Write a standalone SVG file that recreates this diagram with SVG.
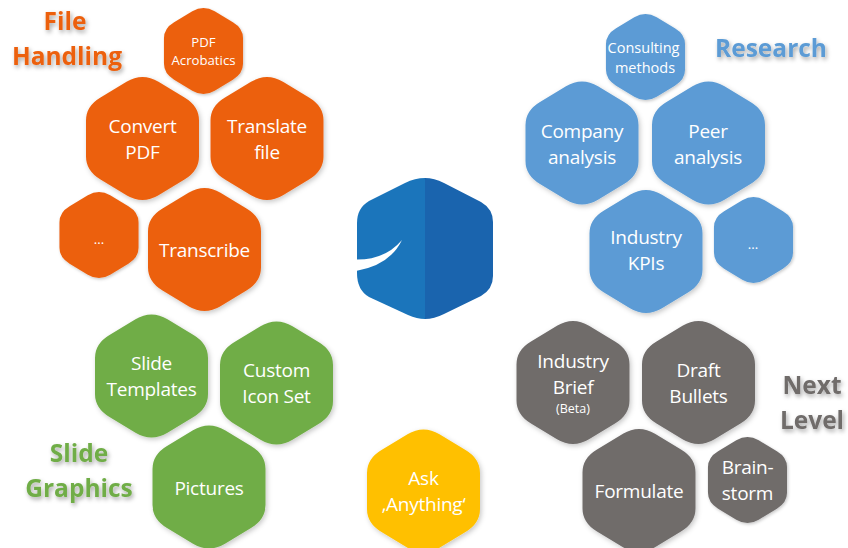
<svg xmlns="http://www.w3.org/2000/svg" width="848" height="548" viewBox="0 0 848 548">
<style>
text{font-family:"Open Sans","Noto Sans","Liberation Sans",sans-serif;text-anchor:middle;fill:#fff}
.l{font-size:19px;letter-spacing:-.25px}
.s{font-size:13.2px}
.c{font-size:14.5px}
.t{font-size:24.5px;font-weight:700;filter:url(#ts)}
.o{fill:#ec610f}.b{fill:#5b9bd5}.g{fill:#70ad47}.y{fill:#ffc000}.k{fill:#706c6b}
</style>
<defs>
<filter id="ns" x="-20%" y="-20%" width="140%" height="140%"><feDropShadow dx="1.5" dy="2" stdDeviation="2.5" flood-color="#000" flood-opacity=".22"/></filter>
<filter id="ts" x="-20%" y="-30%" width="140%" height="170%"><feDropShadow dx="1.5" dy="2.5" stdDeviation="2" flood-color="#000" flood-opacity=".35"/></filter>
<path id="h" d="M-16,-56.7Q0,-66.3 16,-56.7L42,-41Q56.5,-32.4 56.5,-18L56.5,18Q56.5,32.4 42,41L16,56.7Q0,66.3 -16,56.7L-42,41Q-56.5,32.4 -56.5,18L-56.5,-18Q-56.5,-32.4 -42,-41Z"/>
</defs>
<g id="connectors"/>
<g id="title-file"><text class="t" x="65" y="30" style="fill:#ec610f">File</text><text class="t" x="67" y="65" style="fill:#ec610f">Handling</text></g>
<g id="title-research"><text class="t" x="771" y="57" style="fill:#5b9bd5">Research</text></g>
<g id="title-slide"><text class="t" x="79" y="462" style="fill:#70ad47">Slide</text><text class="t" x="79" y="497" style="fill:#70ad47">Graphics</text></g>
<g id="title-next"><text class="t" x="812" y="394" style="fill:#706c6b">Next</text><text class="t" x="812" y="429" style="fill:#706c6b">Level</text></g>

<g id="pdf-acrobatics"><use href="#h" class="o" filter="url(#ns)" transform="translate(203.5 51) scale(.7)"/><text class="s" x="203.5" y="47">PDF</text><text class="s" x="203.5" y="65">Acrobatics</text></g>
<g id="convert-pdf"><use href="#h" class="o" filter="url(#ns)" transform="translate(142.5 138.5)"/><text class="l" x="142.5" y="133">Convert</text><text class="l" x="142.5" y="159">PDF</text></g>
<g id="translate-file"><use href="#h" class="o" filter="url(#ns)" transform="translate(267 138.5)"/><text class="l" x="267" y="133">Translate</text><text class="l" x="267" y="159">file</text></g>
<g id="dots-orange"><use href="#h" class="o" filter="url(#ns)" transform="translate(99 235) scale(.7)"/><text class="s" x="99" y="244">...</text></g>
<g id="transcribe"><use href="#h" class="o" filter="url(#ns)" transform="translate(204.5 249.5)"/><text class="l" x="204.5" y="257">Transcribe</text></g>

<g id="consulting"><use href="#h" class="b" filter="url(#ns)" transform="translate(645.5 57) scale(.7)"/><text class="c" x="643.5" y="53">Consulting</text><text class="c" x="645" y="73">methods</text></g>
<g id="company"><use href="#h" class="b" filter="url(#ns)" transform="translate(582 143)"/><text class="l" x="582" y="138">Company</text><text class="l" x="582" y="164">analysis</text></g>
<g id="peer"><use href="#h" class="b" filter="url(#ns)" transform="translate(708.5 143)"/><text class="l" x="708" y="138">Peer</text><text class="l" x="708" y="164">analysis</text></g>
<g id="kpis"><use href="#h" class="b" filter="url(#ns)" transform="translate(646 251.5)"/><text class="l" x="646" y="244">Industry</text><text class="l" x="646" y="270">KPIs</text></g>
<g id="dots-blue"><use href="#h" class="b" filter="url(#ns)" transform="translate(753.5 240) scale(.7)"/><text class="s" x="753" y="249">...</text></g>

<g id="logo">
<path fill="#1b75bb" d="M425,178Q415,178 405,183L369,201Q357,208 357,223L357,273Q357,290 369,297L408,315Q417,319 425,319Z"/>
<path fill="#1a64ae" d="M425,178Q434,178 444,183L481,202Q493,209 493,222L493,276Q493,289 481,296L444,314Q434,319 425,319Z"/>
<path fill="#fff" d="M356,259.5Q385,260 402,240Q390,265 356,271Z"/>
</g>

<g id="slide-templates"><use href="#h" class="g" filter="url(#ns)" transform="translate(151.5 376)"/><text class="l" x="151.5" y="370">Slide</text><text class="l" x="151.5" y="396">Templates</text></g>
<g id="custom-icons"><use href="#h" class="g" filter="url(#ns)" transform="translate(276.5 383)"/><text class="l" x="276.5" y="377">Custom</text><text class="l" x="276.5" y="403">Icon Set</text></g>
<g id="pictures"><use href="#h" class="g" filter="url(#ns)" transform="translate(209 487)"/><text class="l" x="209" y="495">Pictures</text></g>
<g id="ask"><use href="#h" class="y" filter="url(#ns)" transform="translate(423.5 491)"/><text class="l" x="423.5" y="485">Ask</text><text class="l" x="423.5" y="511">‚Anything‘</text></g>

<g id="industry-brief"><use href="#h" class="k" filter="url(#ns)" transform="translate(573 382.5)"/><text class="l" x="573" y="368">Industry</text><text class="l" x="573" y="394">Brief</text><text x="573" y="413" font-size="12.5">(Beta)</text></g>
<g id="draft-bullets"><use href="#h" class="k" filter="url(#ns)" transform="translate(698.5 382.5)"/><text class="l" x="698.5" y="377">Draft</text><text class="l" x="698.5" y="403">Bullets</text></g>
<g id="formulate"><use href="#h" class="k" filter="url(#ns)" transform="translate(639 490.5)"/><text class="l" x="639" y="498">Formulate</text></g>
<g id="brainstorm"><use href="#h" class="k" filter="url(#ns)" transform="translate(747.5 480) scale(.7)"/><text class="l" x="747.5" y="474">Brain-</text><text class="l" x="747.5" y="500">storm</text></g>
</svg>
